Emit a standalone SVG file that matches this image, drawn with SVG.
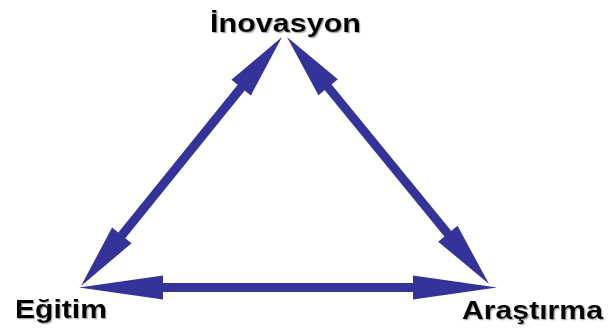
<svg xmlns="http://www.w3.org/2000/svg" width="609" height="334" viewBox="0 0 609 334">
<style>
.lbl{font-family:"Liberation Sans",Arial,sans-serif;font-weight:bold;font-size:26px;fill:#000;filter:url(#sh)}
.ln{stroke:#333399;stroke-width:9;fill:none}
</style>
<defs>
<filter id="sh" x="-10%" y="-20%" width="130%" height="150%">
<feDropShadow dx="1.2" dy="1.2" stdDeviation="0.7" flood-color="#888" flood-opacity="0.7"/>
</filter>
<marker id="hd" markerUnits="userSpaceOnUse" markerWidth="70" markerHeight="30" viewBox="-2 -13 70 26" refX="0" refY="0" orient="auto-start-reverse">
<path d="M-1,-12.5 L64,0 L-1,12.5 Z" fill="#333399"/>
</marker>
<marker id="hh" markerUnits="userSpaceOnUse" markerWidth="90" markerHeight="30" viewBox="-2 -13 90 26" refX="0" refY="0" orient="auto-start-reverse">
<path d="M-1,-12 L83,0 L-1,12 Z" fill="#333399"/>
</marker>
</defs>
<g id="connectors">
<line class="ln" x1="241.8" y1="86.8" x2="121.2" y2="236.2" marker-start="url(#hd)" marker-end="url(#hd)"/>
<line class="ln" x1="327.5" y1="86.5" x2="448.5" y2="234.5" marker-start="url(#hd)" marker-end="url(#hd)"/>
<line class="ln" x1="162" y1="287.5" x2="414" y2="287.5" marker-start="url(#hh)" marker-end="url(#hh)"/>
</g>
<g id="inovasyon"><text class="lbl" x="210" y="32" textLength="151" lengthAdjust="spacingAndGlyphs">İnovasyon</text></g>
<g id="egitim"><text class="lbl" x="15" y="318" textLength="92" lengthAdjust="spacingAndGlyphs">Eğitim</text></g>
<g id="arastirma"><text class="lbl" x="462" y="319" textLength="141" lengthAdjust="spacingAndGlyphs">Araştırma</text></g>
</svg>
